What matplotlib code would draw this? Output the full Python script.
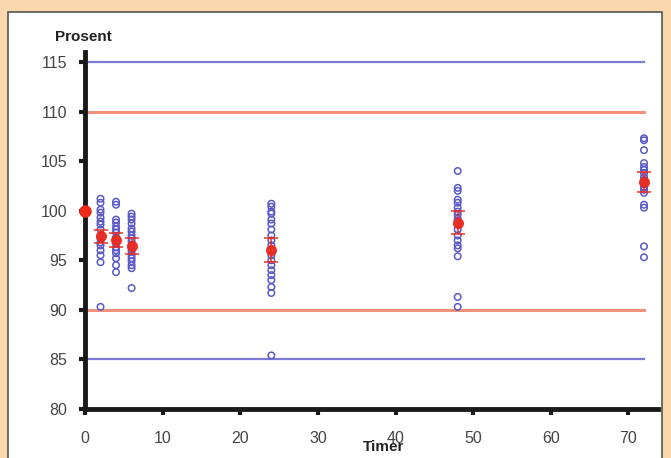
import matplotlib
matplotlib.use("Agg")
import matplotlib.pyplot as plt
from matplotlib.patches import Rectangle

plt.rcParams["font.family"] = ["Liberation Sans", "DejaVu Sans"]

# ---- data -----------------------------------------------------------------
limits_outer = [85, 115]
limits_inner = [90, 110]
line_x = [0, 72]

baseline_x = 0
baseline_y = 100

times = [2, 4, 6, 24, 48, 72]
samples = [
    [101.2, 100.8, 100.1, 99.8, 99.3, 98.9, 98.6, 98.1, 97.5, 97.2, 96.8,
     96.5, 96.0, 95.5, 94.8, 90.3],
    [100.9, 100.6, 99.1, 98.8, 98.4, 98.1, 97.8, 97.3, 97.0, 96.7, 96.3,
     96.0, 95.7, 95.2, 94.5, 93.8],
    [99.7, 99.4, 99.1, 98.7, 98.2, 97.9, 97.5, 97.2, 96.9, 96.5, 96.2,
     95.9, 95.5, 95.2, 94.9, 94.5, 94.2, 92.2],
    [100.7, 100.4, 99.9, 99.7, 99.1, 98.7, 98.1, 97.5, 97.0, 96.5, 96.0,
     95.5, 95.0, 94.5, 94.0, 93.5, 93.0, 92.3, 91.7, 85.4],
    [104.0, 102.3, 102.0, 101.1, 100.8, 100.3, 99.9, 99.6, 99.2, 98.9,
     98.6, 98.1, 97.5, 97.0, 96.5, 96.2, 95.4, 91.3, 90.3],
    [107.3, 107.1, 106.1, 104.8, 104.4, 104.1, 103.8, 103.4, 103.1, 102.8,
     102.4, 102.1, 101.8, 100.6, 100.3, 96.4, 95.3],
]
means = [97.4, 97.0, 96.4, 96.0, 98.8, 102.9]
errors = [0.7, 0.7, 0.8, 1.2, 1.2, 1.0]

BLUE = "#5a5ac8"
SALMON = "#f3866a"
RED = "#ee2a1a"

fig = plt.figure(figsize=(6.71, 4.58), dpi=100)
fig.patch.set_facecolor("#f8d8ac")
fig.patches.append(Rectangle((8 / 671, -0.1), 654 / 671, 1.1 - 12 / 458,
                             transform=fig.transFigure, facecolor="white",
                             edgecolor="#555555", lw=1.2, zorder=-5))

ax = fig.add_axes([85 / 671, 49 / 458, 573 / 671, 357 / 458])
ax.set_facecolor("none")
ax.set_zorder(2)

for y in limits_outer:
    ax.plot(line_x, [y, y], color=BLUE, lw=1.6, alpha=0.8, zorder=2)
for y in limits_inner:
    ax.plot(line_x, [y, y], color=SALMON, lw=2.2, alpha=0.9, zorder=2)

for t, vals in zip(times, samples):
    ax.scatter([t] * len(vals), vals, s=22, facecolors="none",
               edgecolors=BLUE, linewidths=1.1, zorder=3, clip_on=False)

ax.errorbar(times, means, yerr=errors, fmt="o", color=RED, ms=7,
            elinewidth=1.2, capsize=5, capthick=1.2, zorder=4, alpha=0.9)
ax.plot(baseline_x, baseline_y, "o", color=RED, ms=8, zorder=5,
        clip_on=False)

ax.set_xlim(0, 73.8)
ax.set_ylim(80, 116)
ax.set_xticks(range(0, 71, 10))
ax.set_yticks(range(80, 116, 5))
for s in ["top", "right"]:
    ax.spines[s].set_visible(False)
for s in ["left", "bottom"]:
    ax.spines[s].set_linewidth(3.5)
    ax.spines[s].set_color("#1a1a1a")
ax.tick_params(length=4, width=3, color="#1a1a1a", labelsize=11.5,
               labelcolor="#444444")
ax.tick_params(axis="y", pad=9)
ax.tick_params(axis="x", pad=12)

fig.text(55 / 671, 1 - 37 / 458, "Prosent", fontsize=11, fontweight="bold",
         color="#222222", va="center", ha="left")
fig.text(384 / 671, 1 - 447 / 458, "Timer", fontsize=11, fontweight="bold",
         color="#222222", va="center", ha="center")

fig.savefig("out.png", dpi=100)
